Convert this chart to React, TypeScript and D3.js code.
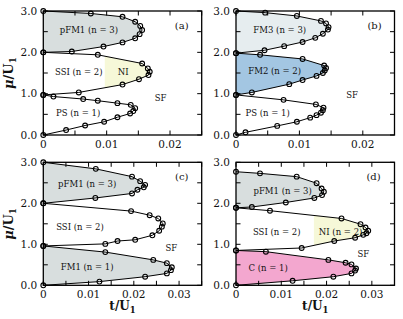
import React from "react";
import * as d3 from "d3";

type P = [number, number];

// Panel (a)
const aPS: P[] = [[0,0],[0.0036,0.12],[0.0066,0.23],[0.0096,0.32],[0.0117,0.43],[0.0137,0.52],[0.0142,0.58],[0.0145,0.65],[0.0138,0.73],[0.0117,0.77],[0.0086,0.83],[0.0063,0.87],[0.0016,0.93],[0,0.97]];
const aSSI: P[] = [[0,0.97],[0.0056,1.03],[0.0125,1.22],[0.0151,1.35],[0.0166,1.45],[0.0168,1.53],[0.0165,1.61],[0.0156,1.73],[0.0086,1.94],[0,2.0]];
const aPFM1: P[] = [[0,2.0],[0.0045,2.02],[0.0095,2.14],[0.0125,2.24],[0.0145,2.34],[0.0152,2.44],[0.0156,2.54],[0.0153,2.64],[0.0145,2.74],[0.0125,2.86],[0.0075,2.94],[0,3.0]];

// Panel (b)
const bPS: P[] = [[0,0],[0.0015,0.065],[0.0065,0.22],[0.0096,0.32],[0.0117,0.42],[0.0127,0.48],[0.0134,0.54],[0.0137,0.6],[0.0138,0.66],[0.0126,0.74],[0.0075,0.85],[0,0.97]];
const bFM2: P[] = [[0,0.97],[0.0025,1.03],[0.0084,1.23],[0.0105,1.33],[0.0127,1.43],[0.0137,1.5],[0.014,1.56],[0.0142,1.62],[0.0139,1.68],[0.0105,1.84],[0.0038,1.94],[0,1.98]];
const bFM3: P[] = [[0,1.98],[0.0045,2.05],[0.0076,2.15],[0.0105,2.25],[0.0125,2.35],[0.0137,2.45],[0.0145,2.55],[0.0146,2.61],[0.0142,2.7],[0.0134,2.76],[0.0096,2.88],[0.0046,2.96],[0,3.0]];

// Panel (c)
const cFM1: P[] = [[0,0],[0.0124,0.09],[0.0225,0.21],[0.0273,0.29],[0.0282,0.37],[0.0284,0.44],[0.0273,0.54],[0.0243,0.62],[0.0137,0.81],[0,0.96]];
const cSSI: P[] = [[0,0.96],[0.0137,1.01],[0.0164,1.08],[0.0203,1.11],[0.0241,1.22],[0.0256,1.33],[0.0262,1.43],[0.0264,1.51],[0.0254,1.63],[0.0235,1.71],[0.0194,1.81],[0,2.0]];
const cPFM1: P[] = [[0,2.0],[0.0115,2.13],[0.0196,2.24],[0.0208,2.33],[0.0222,2.39],[0.0225,2.45],[0.0214,2.54],[0.0196,2.65],[0.0116,2.84],[0,3.0]];

// Panel (d)
const dC: P[] = [[0,0],[0.0125,0.11],[0.0215,0.21],[0.0255,0.29],[0.0263,0.36],[0.0265,0.41],[0.0255,0.51],[0.0242,0.55],[0.0204,0.62],[0.0066,0.82],[0,0.85]];
const dSSI: P[] = [[0,0.85],[0.0145,0.91],[0.0217,1.08],[0.0263,1.16],[0.0281,1.23],[0.0288,1.27],[0.0292,1.33],[0.0286,1.41],[0.0275,1.49],[0.0233,1.63],[0.0075,1.82],[0,1.89]];
const dPFM1: P[] = [[0,1.89],[0.0035,1.91],[0.011,2.02],[0.0173,2.13],[0.019,2.2],[0.0194,2.28],[0.0189,2.36],[0.0178,2.49],[0.0134,2.65],[0.0053,2.73],[0,2.77]];

const yTickLabels = ["0.0", "1.0", "2.0", "3.0"];
const xTickLabelsAB = ["0", "0.01", "0.02"];
const xTickLabelsCD = ["0", "0.01", "0.02", "0.03"];

const GRAY = "#d8dede";
const LIGHT = "#e6edef";
const BLUE = "#a3c6e2";
const YELLOW = "#f6f8d8";
const PINK = "#f3a7cf";
const FONT = "'DejaVu Serif', serif";

type Lobe = { pts: P[]; fill?: string; clipX?: number; clipFill?: string };
type Label = { x: number; y: number; text: string };
type Panel = {
  id: string;
  box: [number, number, number, number];
  xMax: number;
  xLabels: string[];
  lobes: Lobe[];
  labels: Label[];
  tag: string;
  tagDx: number;
  showXTitle: boolean;
};

const panels: Panel[] = [
  {
    id: "a", box: [43.3, 201.7, 11, 135], xMax: 0.025, xLabels: xTickLabelsAB, tag: "(a)", tagDx: 20, showXTitle: false,
    lobes: [{ pts: aPS }, { pts: aSSI, clipX: 0.0097, clipFill: YELLOW }, { pts: aPFM1, fill: GRAY }],
    labels: [
      { x: 0.0072, y: 2.55, text: "pFM1 (n = 3)" },
      { x: 0.0056, y: 1.52, text: "SSI (n = 2)" },
      { x: 0.0126, y: 1.52, text: "NI" },
      { x: 0.0055, y: 0.52, text: "PS (n = 1)" },
      { x: 0.0185, y: 0.9, text: "SF" },
    ],
  },
  {
    id: "b", box: [236, 394.5, 11, 135], xMax: 0.025, xLabels: xTickLabelsAB, tag: "(b)", tagDx: 20, showXTitle: false,
    lobes: [{ pts: bPS }, { pts: bFM2, fill: BLUE }, { pts: bFM3, fill: LIGHT }],
    labels: [
      { x: 0.0069, y: 2.55, text: "FM3 (n = 3)" },
      { x: 0.0061, y: 1.55, text: "FM2 (n = 2)" },
      { x: 0.005, y: 0.52, text: "PS (n = 1)" },
      { x: 0.0183, y: 0.97, text: "SF" },
    ],
  },
  {
    id: "c", box: [43.3, 201.7, 162.3, 285.3], xMax: 0.035, xLabels: xTickLabelsCD, tag: "(c)", tagDx: 20, showXTitle: true,
    lobes: [{ pts: cFM1, fill: GRAY }, { pts: cSSI }, { pts: cPFM1, fill: GRAY }],
    labels: [
      { x: 0.0097, y: 2.47, text: "pFM1 (n = 3)" },
      { x: 0.0081, y: 1.42, text: "SSI (n = 2)" },
      { x: 0.0097, y: 0.45, text: "FM1 (n = 1)" },
      { x: 0.0283, y: 0.92, text: "SF" },
    ],
  },
  {
    id: "d", box: [236, 394.5, 162.3, 285.3], xMax: 0.035, xLabels: xTickLabelsCD, tag: "(d)", tagDx: 21, showXTitle: true,
    lobes: [{ pts: dC, fill: PINK }, { pts: dSSI, clipX: 0.0172, clipFill: YELLOW }, { pts: dPFM1, fill: GRAY }],
    labels: [
      { x: 0.0103, y: 2.31, text: "pFM1 (n = 3)" },
      { x: 0.009, y: 1.3, text: "SSI (n = 2)" },
      { x: 0.0231, y: 1.3, text: "NI (n = 2)" },
      { x: 0.0071, y: 0.42, text: "C (n = 1)" },
      { x: 0.0281, y: 0.77, text: "SF" },
    ],
  },
];

function PanelView({ p }: { p: Panel }) {
  const [x0, x1, yTop, yBot] = p.box;
  const x = d3.scaleLinear().domain([0, p.xMax]).range([x0, x1]);
  const y = d3.scaleLinear().domain([0, 3]).range([yBot, yTop]);
  const line = d3.line<P>().x((d) => x(d[0])).y((d) => y(d[1]));
  const xMinor = d3.range(0, p.xMax + 1e-9, 0.005);
  const yMinor = d3.range(0, 3.0001, 0.5);
  const tl = 4.5;
  return (
    <g>
      <defs>
        {p.lobes.map((l, i) =>
          l.clipX !== undefined ? (
            <clipPath id={`clip-${p.id}-${i}`} key={i}>
              <rect x={x(l.clipX)} y={yTop} width={x1 - x(l.clipX)} height={yBot - yTop} />
            </clipPath>
          ) : null
        )}
      </defs>
      {p.lobes.map((l, i) => (
        <g key={`f${i}`}>
          {l.fill && <path d={line(l.pts) + "Z"} fill={l.fill} stroke="none" />}
          {l.clipX !== undefined && (
            <path d={line(l.pts) + "Z"} fill={l.clipFill} stroke="none" clipPath={`url(#clip-${p.id}-${i})`} />
          )}
        </g>
      ))}
      {xMinor.map((v, i) => (
        <g key={`xt${i}`}>
          <line x1={x(v)} x2={x(v)} y1={yBot} y2={yBot - tl} stroke="#000" strokeWidth={1} />
          <line x1={x(v)} x2={x(v)} y1={yTop} y2={yTop + tl} stroke="#000" strokeWidth={1} />
        </g>
      ))}
      {yMinor.map((v, i) => (
        <g key={`yt${i}`}>
          <line x1={x0} x2={x0 + tl} y1={y(v)} y2={y(v)} stroke="#000" strokeWidth={1} />
          <line x1={x1} x2={x1 - tl} y1={y(v)} y2={y(v)} stroke="#000" strokeWidth={1} />
        </g>
      ))}
      <rect x={x0} y={yTop} width={x1 - x0} height={yBot - yTop} fill="none" stroke="#000" strokeWidth={1.3} />
      {p.lobes.map((l, i) => (
        <g key={`l${i}`}>
          <path d={line(l.pts) ?? ""} fill="none" stroke="#000" strokeWidth={1} />
          {l.pts.map((d, j) => (
            <circle key={j} cx={x(d[0])} cy={y(d[1])} r={2.4} fill="none" stroke="#000" strokeWidth={1.1} />
          ))}
        </g>
      ))}
      {yTickLabels.map((t, i) => (
        <text key={`yl${i}`} x={x0 - 6} y={y(+t)} dy="0.35em" textAnchor="end" fontSize={10.5} fontFamily={FONT} fill="#111">
          {t}
        </text>
      ))}
      {p.xLabels.map((t, i) => (
        <text key={`xl${i}`} x={x(+t)} y={yBot + 12.5} textAnchor="middle" fontSize={10.5} fontFamily={FONT} fill="#111">
          {t}
        </text>
      ))}
      {p.labels.map((lb, i) => (
        <text key={`lb${i}`} x={x(lb.x)} y={y(lb.y)} dy="0.35em" textAnchor="middle" fontSize={8.5} fontFamily={FONT} fill="#111">
          {lb.text}
        </text>
      ))}
      <text x={x1 - p.tagDx} y={yTop + 18} textAnchor="middle" fontSize={10} fontFamily={FONT} fill="#111">
        {p.tag}
      </text>
      {p.showXTitle && (
        <text x={(x0 + x1) / 2} y={yBot + 25} textAnchor="middle" fontSize={12} fontWeight="bold" fontFamily={FONT} fill="#111">
          t/U<tspan fontSize={8.5} dy="2.5">1</tspan>
        </text>
      )}
      {(p.id === "a" || p.id === "c") && (
        <text
          transform={`translate(${13},${(yTop + yBot) / 2}) rotate(-90)`}
          textAnchor="middle"
          fontSize={13}
          fontWeight="bold"
          fontFamily={FONT}
          fill="#111"
        >
          <tspan fontStyle="italic">μ</tspan>/U<tspan fontSize={9} dy="2.5">1</tspan>
        </text>
      )}
    </g>
  );
}

export default function App() {
  return (
    <svg width={403} height={319} style={{ position: "absolute", left: 0, top: 0, background: "#fff" }}>
      <rect width={403} height={319} fill="#fff" />
      {panels.map((p) => (
        <PanelView key={p.id} p={p} />
      ))}
    </svg>
  );
}
